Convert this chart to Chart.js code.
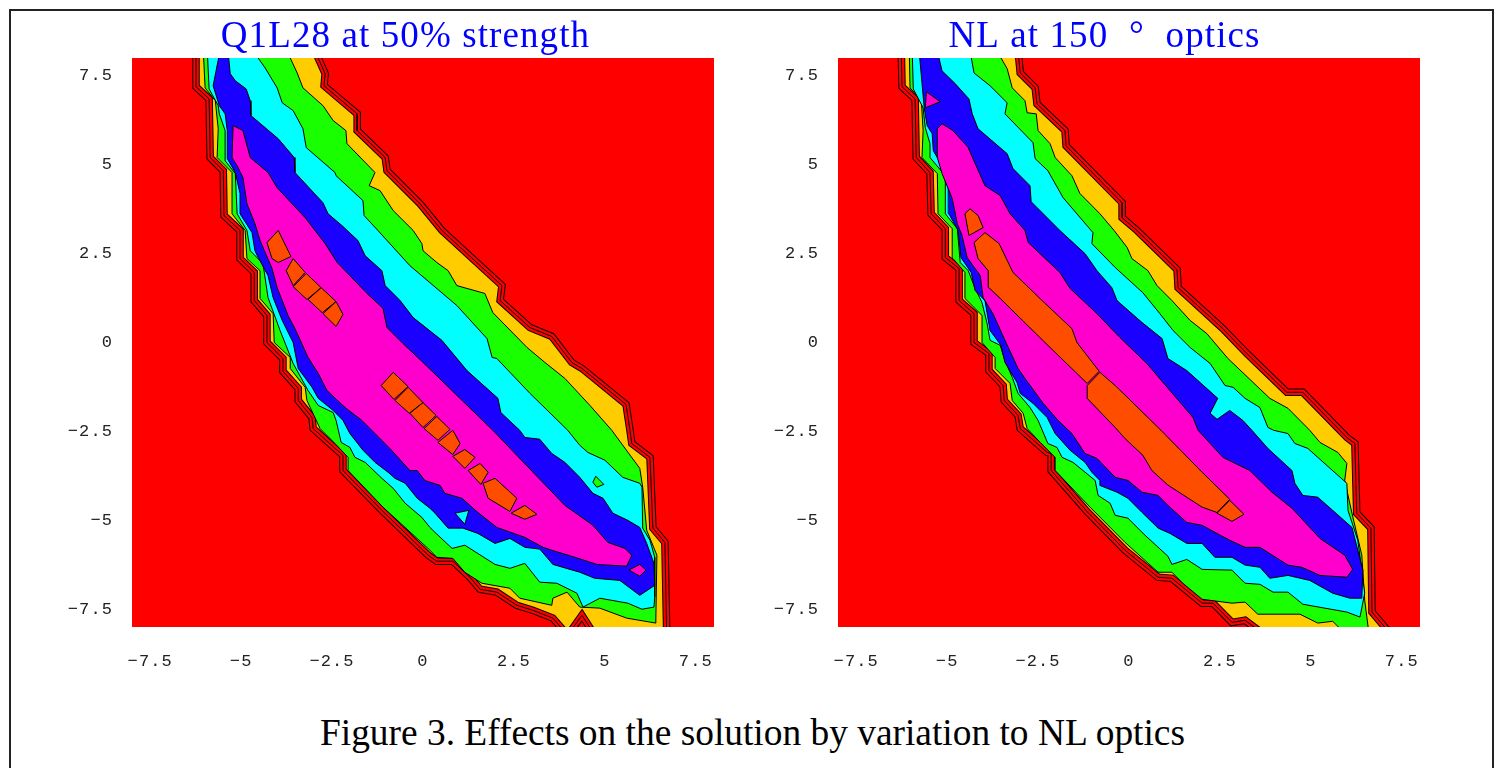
<!DOCTYPE html>
<html>
<head>
<meta charset="utf-8">
<title>Figure 3</title>
<script src="https://cdn.jsdelivr.net/npm/chart.js@4/dist/chart.umd.js"></script>
<style>
  html, body { margin: 0; padding: 0; background: #fff; overflow: hidden; }
  #page { position: relative; width: 1502px; height: 768px; overflow: hidden; }
  #frame { position: absolute; left: 9px; top: 9px; width: 1485px; height: 800px; border: 2px solid #222; box-sizing: border-box; }
  #left-box { position: absolute; left: 40px; top: 0; width: 731px; height: 700px; }
  #right-box { position: absolute; left: 771px; top: 0; width: 667px; height: 700px; }
  #caption { position: absolute; left: 0; width: 1505px; top: 711px; text-align: center; font: 37.4px "Liberation Serif", serif; color: #000; }
</style>
</head>
<body>
<div id="page">
  <div id="frame"></div>
  <div id="left-box"><canvas id="left-chart"></canvas></div>
  <div id="right-box"><canvas id="right-chart"></canvas></div>
  <div id="caption">Figure 3. Effects on the solution by variation to NL optics</div>
</div>
<script>
const xTicks = [-7.5, -5, -2.5, 0, 2.5, 5, 7.5];
const yTicks = [-7.5, -5, -2.5, 0, 2.5, 5, 7.5];
const leftTitle = 'Q1L28 at 50% strength';
const rightTitle = 'NL at 150  °  optics';

// left panel contours, outermost first
const leftOuter = [[-6.24,8.2],[-2.97,8.2],[-2.69,7.56],[-2.72,7.22],[-1.81,6.43],[-1.81,5.96],[-1.04,5.2],[-0.99,4.83],[-0.08,3.9],[0.52,3.15],[2.17,1.6],[2.12,1.18],[2.94,0.42],[3.54,0.17],[4.09,-0.56],[4.37,-0.73],[5.58,-1.74],[5.69,-2.47],[5.74,-2.84],[6.24,-3.23],[6.32,-5.22],[6.65,-5.62],[6.7,-8.23],[4.72,-8.23],[4.37,-7.67],[3.98,-8.23],[3.57,-7.75],[3.02,-7.53],[2.58,-7.39],[2.03,-7.02],[1.57,-6.94],[1.29,-6.6],[0.82,-6.15],[0.38,-6.15],[0.14,-5.98],[-1.13,-4.72],[-2.2,-3.6],[-2.2,-3.17],[-2.36,-3.03],[-3.02,-2.42],[-3.05,-2.11],[-3.43,-1.63],[-3.43,-1.29],[-3.85,-0.81],[-3.85,-0.45],[-4.29,0],[-4.29,0.76],[-4.64,1.18],[-4.64,1.97],[-5.03,2.36],[-5.03,3.15],[-5.47,3.57],[-5.49,4.83],[-5.85,5.2],[-5.88,6.85],[-6.24,7.19]];
const leftGreen = [[-3.74,8.2],[-3.46,7.58],[-3.3,7.16],[-2.75,6.66],[-2.47,6.24],[-2.12,5.96],[-2.09,5.59],[-1.32,4.78],[-1.48,4.41],[-1.18,4.27],[-0.82,3.71],[-0.27,3.15],[-0.03,2.78],[0,2.58],[0.38,2.25],[0.69,2.02],[0.93,1.6],[1.7,1.38],[1.92,0.84],[2.86,-0.14],[3.35,-0.56],[3.9,-1.01],[4.59,-1.77],[5.19,-2.47],[5.96,-3.54],[6.04,-4.07],[6.15,-5.28],[6.43,-5.98],[6.4,-7.89],[5.6,-7.75],[4.86,-7.47],[4.31,-7.44],[3.96,-7.02],[3.57,-7.19],[3.54,-7.39],[2.66,-7.19],[2.39,-6.91],[1.62,-6.77],[1.15,-6.46],[0.82,-6.07],[0.38,-6.04],[0.19,-5.84],[-1.1,-4.63],[-2.06,-3.6],[-2.06,-3.23],[-2.42,-2.84],[-2.83,-2.42],[-3.19,-1.63],[-3.24,-1.26],[-3.65,-0.73],[-3.65,-0.42],[-4.09,0],[-4.12,0.81],[-4.48,1.24],[-4.48,2.02],[-4.84,2.36],[-4.89,3.15],[-5.25,3.62],[-5.25,4.78],[-5.66,5.2],[-5.63,6.01],[-5.71,6.8],[-5.99,7.16],[-6.04,8.2]];
const leftCyan = [[-4.67,8.2],[-4.34,7.72],[-4.01,7.16],[-3.87,6.74],[-3.57,6.52],[-3.3,6.01],[-3.21,5.48],[-2.42,4.78],[-2.39,4.69],[-1.65,3.99],[-1.62,3.57],[-1.24,3.15],[-0.91,2.78],[-0.36,2.16],[0.93,1.04],[1.76,0.11],[1.9,-0.42],[2.03,-0.45],[2.94,-1.43],[3.98,-2.47],[4.31,-2.89],[4.53,-3.09],[5,-3.31],[5.49,-3.79],[5.96,-3.96],[6.02,-4.07],[6.04,-5.22],[6.24,-5.56],[6.37,-6.04],[6.37,-7.16],[6.35,-7.44],[6.02,-7.5],[5.63,-7.33],[4.86,-7.19],[4.4,-7.44],[4.23,-7.05],[3.68,-6.77],[3.21,-6.74],[2.8,-6.21],[2.39,-6.35],[1.98,-6.24],[1.15,-5.7],[0.8,-5.79],[0.33,-5.34],[0.19,-5.2],[-0.03,-4.92],[-0.49,-4.52],[-0.82,-4.1],[-1.13,-3.82],[-1.59,-3.37],[-1.87,-3.23],[-2.01,-2.95],[-2.25,-2.81],[-2.39,-2.19],[-2.47,-1.97],[-2.88,-1.77],[-3.16,-1.35],[-3.57,-0.59],[-3.93,0.34],[-4.26,1.26],[-4.4,2.22],[-4.75,2.58],[-4.84,3.15],[-5.11,3.62],[-5.16,4.75],[-5.44,5.11],[-5.44,5.96],[-5.6,6.43],[-5.63,6.66],[-5.88,7.13],[-5.93,8.2]];
const leftBlue = [[-5.36,8.2],[-5.3,7.56],[-5.16,7.36],[-4.86,7.13],[-4.75,6.8],[-4.73,6.38],[-3.98,5.73],[-3.54,5.2],[-3.52,4.78],[-2.75,3.93],[-2.61,3.62],[-2.23,3.29],[-1.79,2.87],[-1.59,2.44],[-1.13,2.02],[-1.04,1.6],[-0.63,1.18],[-0.27,0.7],[0.52,0.06],[1.21,-0.79],[2.06,-1.57],[2.14,-1.97],[2.66,-2.47],[2.8,-2.67],[3.21,-2.72],[3.54,-3.12],[3.9,-3.37],[4.31,-3.79],[4.67,-4.24],[4.95,-4.38],[5.22,-4.8],[5.63,-5],[5.96,-5.2],[6.15,-5.65],[6.35,-6.21],[6.37,-6.83],[5.96,-7.11],[5.41,-6.69],[4.72,-6.63],[4.31,-6.46],[3.57,-6.24],[3.21,-5.81],[2.8,-5.76],[2.39,-5.51],[1.98,-5.65],[1.51,-5.37],[1.1,-5.22],[0.69,-5.22],[0.33,-4.8],[0.19,-4.66],[-0.16,-4.38],[-0.49,-3.96],[-0.77,-3.82],[-0.96,-3.65],[-1.32,-3.37],[-1.65,-3.03],[-2.01,-2.56],[-2.2,-2.19],[-2.47,-1.91],[-2.88,-1.57],[-3.05,-1.26],[-3.43,-0.73],[-3.57,0],[-3.87,0.62],[-4.12,1.26],[-4.26,1.88],[-4.53,2.39],[-4.62,2.58],[-4.7,3.09],[-5.03,3.62],[-5.03,4.19],[-5.16,4.78],[-5.38,5.17],[-5.38,5.96],[-5.44,6.43],[-5.6,6.66],[-5.77,7.22],[-5.58,8.2]];
const leftMagenta = [[-5.22,6.1],[-4.95,5.96],[-4.75,5.2],[-4.26,4.78],[-4.01,4.35],[-3.24,3.51],[-2.69,2.78],[-2.36,2.25],[-1.54,1.38],[-1.1,0.96],[-0.99,0.42],[-0.55,-0.03],[0,-0.56],[1.92,-2.47],[3.9,-4.58],[4.67,-5.14],[5.08,-5.62],[5.55,-5.79],[5.74,-5.98],[5.6,-6.29],[4.78,-6.24],[4.18,-6.04],[3.63,-5.87],[3.3,-5.76],[2.8,-5.48],[2.03,-5.2],[1.51,-4.78],[1.07,-4.38],[0.6,-4.24],[0.47,-4.02],[0.05,-3.88],[-0.16,-3.6],[-0.36,-3.6],[-0.91,-2.98],[-1.32,-2.56],[-1.68,-2.19],[-2.14,-1.83],[-2.64,-1.35],[-2.88,-0.87],[-3.16,-0.42],[-3.52,0.39],[-3.71,0.76],[-4.01,1.54],[-4.15,2.08],[-4.48,2.87],[-4.62,3.34],[-4.84,3.9],[-4.95,4.64],[-5.11,4.97],[-5.25,5.2]];
const leftOrange = [
  [[-4.29,2.81],[-3.98,3.15],[-3.63,2.42],[-3.98,2.25],[-4.15,2.36]],
  [[-3.57,2.36],[-3.24,1.97],[-3.57,1.6],[-3.76,2.02]],
  [[-3.21,1.94],[-2.8,1.54],[-3.19,1.21],[-3.57,1.57]],
  [[-2.8,1.54],[-2.39,1.15],[-2.77,0.84],[-3.16,1.21]],
  [[-2.39,1.15],[-2.2,0.79],[-2.39,0.45],[-2.75,0.81]],
  [[-0.82,-0.84],[-0.41,-1.24],[-0.8,-1.6],[-1.15,-1.21]],
  [[-0.41,-1.26],[0,-1.69],[-0.38,-1.99],[-0.77,-1.63]],
  [[0,-1.69],[0.36,-2.05],[0,-2.39],[-0.36,-1.99]],
  [[0.38,-2.08],[0.74,-2.44],[0.41,-2.75],[0.03,-2.42]],
  [[0.41,-2.81],[0.82,-2.47],[1.02,-2.84],[0.82,-3.15]],
  [[0.82,-3.2],[1.15,-3.01],[1.43,-3.23],[1.15,-3.54]],
  [[1.24,-3.6],[1.57,-3.4],[1.79,-3.65],[1.59,-3.99]],
  [[1.65,-3.96],[1.98,-3.82],[2.58,-4.38],[2.39,-4.75],[1.79,-4.38]],
  [[2.42,-4.8],[2.8,-4.58],[3.13,-4.83],[2.8,-4.97]]
];
const leftGreenIsle = [[4.75,-3.76],[4.97,-3.99],[4.78,-4.07],[4.67,-3.93]];
const leftMagentaIsle = [[5.66,-6.4],[5.96,-6.24],[6.13,-6.4],[5.96,-6.57]];
const leftCyanIsle = [[0.88,-4.8],[1.26,-4.72],[1.15,-5.11]];

// right panel contours
const rightOuter = [[-3.05,8.2],[-2.99,7.58],[-2.58,7.16],[-2.53,6.71],[-1.76,5.96],[-1.73,5.53],[-0.19,3.93],[-0.19,3.51],[0.22,3.15],[1.32,2.05],[1.35,1.54],[2.58,0.39],[3.24,-0.31],[4.34,-1.4],[4.78,-1.4],[5.99,-2.67],[6.21,-2.84],[6.26,-4.8],[6.65,-5.22],[6.68,-7.58],[7.22,-8.23],[3.74,-8.23],[3.19,-7.81],[2.83,-7.87],[2.31,-7.33],[2.01,-7.33],[1.18,-6.63],[0.8,-6.6],[-0.11,-5.84],[-1.13,-4.78],[-2.14,-3.6],[-2.14,-3.12],[-2.25,-3.09],[-2.99,-2.42],[-3.05,-2.05],[-3.43,-1.63],[-3.46,-1.21],[-3.85,-0.79],[-3.85,-0.31],[-4.26,0],[-4.26,0.81],[-4.67,1.18],[-4.67,2.08],[-5.05,2.39],[-5.05,3.2],[-5.44,3.62],[-5.47,4.78],[-5.85,5.2],[-5.88,6.85],[-6.24,7.19],[-6.26,8.2]];
const rightGreen = [[-3.63,8.2],[-3.35,7.7],[-3.21,7.16],[-2.86,6.8],[-2.8,6.46],[-2.55,6.43],[-2.5,5.96],[-2.17,5.59],[-2.03,5.2],[-1.57,4.69],[-1.35,4.19],[-0.8,3.62],[-0.41,3.15],[-0.05,2.67],[0.08,2.36],[0.52,2.02],[0.77,1.6],[1.18,1.18],[1.68,0.62],[2.14,0.25],[2.72,-0.45],[3.87,-1.57],[4.37,-1.85],[4.97,-2.47],[5.25,-2.81],[5.74,-3.09],[5.99,-3.4],[5.93,-3.88],[6.13,-4.8],[6.4,-5.98],[6.48,-7.25],[6.62,-8.37],[6.13,-8.37],[5.6,-7.84],[5.19,-7.89],[4.7,-7.64],[3.54,-7.64],[3.19,-7.3],[2.83,-7.33],[2.01,-7.22],[1.48,-6.77],[1.18,-6.46],[0.8,-6.46],[-0.11,-5.62],[-1.07,-4.63],[-2.03,-3.6],[-2.03,-3.23],[-2.44,-2.81],[-2.8,-2.42],[-2.91,-1.99],[-3.21,-1.63],[-3.27,-1.15],[-3.68,-0.73],[-3.68,-0.42],[-4.04,0],[-4.04,0.76],[-4.51,1.24],[-4.51,1.97],[-4.84,2.36],[-4.86,3.2],[-5.25,3.62],[-5.27,4.75],[-5.69,5.2],[-5.66,5.96],[-5.71,6.8],[-6.02,7.16],[-6.04,8.2]];
const rightCyan = [[-4.37,8.2],[-4.26,7.58],[-3.82,7.22],[-3.35,6.74],[-3.41,6.43],[-2.64,5.62],[-2.58,5.17],[-2.23,4.83],[-1.81,4.07],[-0.99,3.09],[-1.02,2.78],[-0.38,2.11],[0.38,1.4],[0.85,0.81],[1.21,0.34],[1.68,-0.14],[2.23,-0.59],[2.64,-1.21],[2.86,-1.26],[3.19,-1.57],[3.6,-1.83],[3.82,-2.39],[3.98,-2.47],[4.37,-2.56],[4.56,-2.84],[4.92,-2.98],[5.19,-3.23],[5.99,-3.96],[6.02,-4.72],[6.29,-5.56],[6.48,-7.05],[6.35,-7.72],[5.99,-7.58],[4.78,-7.36],[4.37,-7.02],[3.96,-7.02],[3.6,-6.8],[3.19,-6.77],[2.83,-6.4],[2.01,-6.38],[1.59,-6.1],[1.18,-6.24],[1.07,-6.01],[0.44,-5.42],[-0.03,-4.94],[-0.38,-4.86],[-0.52,-4.52],[-0.85,-4.3],[-0.93,-3.88],[-1.54,-3.37],[-1.84,-3.23],[-1.98,-2.95],[-2.23,-2.84],[-2.5,-2.19],[-2.72,-1.83],[-3.05,-1.43],[-3.21,-0.98],[-3.41,-0.51],[-3.54,-0.08],[-3.82,0.06],[-3.9,0.53],[-4.04,1.12],[-4.23,1.52],[-4.42,2.02],[-4.64,2.25],[-4.72,3.2],[-5.05,3.62],[-5.05,4.69],[-5.47,5.2],[-5.47,5.59],[-5.6,6.04],[-5.66,6.6],[-5.93,7.13],[-5.96,8.2]];
const rightBlue = [[-5.27,8.2],[-5.14,7.64],[-4.78,7.28],[-4.4,6.85],[-4.31,6.43],[-4.15,6.01],[-3.35,5.31],[-3.19,4.89],[-2.72,4.41],[-2.69,3.96],[-1.9,3.15],[-1.21,2.5],[-0.88,2.02],[-0.47,1.54],[-0.33,1.18],[0.36,0.56],[0.91,0.11],[1.07,-0.45],[1.59,-0.79],[2.44,-1.57],[2.23,-1.99],[2.42,-2.16],[2.77,-1.91],[3.13,-2.19],[3.38,-2.47],[3.82,-2.98],[4.48,-3.6],[4.56,-3.96],[4.78,-4.3],[5.19,-4.35],[5.6,-4.72],[6.13,-5.2],[6.43,-6.4],[6.4,-7.19],[6.07,-7.19],[5.6,-7.05],[4.97,-6.69],[4.37,-6.55],[3.87,-6.63],[3.6,-6.32],[3.19,-6.26],[2.83,-6.04],[2.36,-6.04],[2.01,-5.65],[1.59,-5.65],[1.13,-5.37],[0.8,-5.22],[0.36,-4.78],[-0.03,-4.38],[-0.33,-4.21],[-0.8,-4.02],[-0.8,-3.88],[-1.02,-3.65],[-1.21,-3.37],[-1.62,-3.03],[-2.03,-2.56],[-2.25,-2.11],[-2.64,-1.71],[-2.99,-1.43],[-3.08,-1.12],[-3.41,-0.56],[-3.52,-0.08],[-3.82,0.34],[-3.96,1.18],[-4.23,1.46],[-4.34,1.97],[-4.62,2.39],[-4.7,3.15],[-4.95,3.62],[-4.97,4.69],[-5.38,5.39],[-5.41,5.87],[-5.55,6.1],[-5.63,6.6],[-5.69,7.28],[-5.77,8.2]];
const rightMagenta = [[-5.14,6.15],[-4.84,5.96],[-4.42,5.48],[-4.29,5.17],[-3.96,4.41],[-3.54,4.13],[-3.27,3.62],[-2.86,3.15],[-2.77,2.81],[-1.9,1.97],[-1.62,1.52],[-0.88,0.81],[-0.25,0.14],[0.49,-0.59],[1.76,-2.11],[1.9,-2.47],[2.58,-3.23],[3.32,-3.6],[3.93,-4.21],[4.48,-4.66],[5.25,-5.51],[5.93,-5.98],[6.15,-6.38],[5.99,-6.6],[5.25,-6.55],[4.75,-6.32],[4.37,-6.26],[3.6,-5.76],[3.19,-5.76],[2.77,-5.56],[2.42,-5.37],[2.01,-5.14],[1.59,-5.06],[1.07,-4.58],[0.8,-4.3],[0.36,-4.21],[-0.03,-3.88],[-0.38,-3.79],[-0.88,-3.26],[-1.21,-3.12],[-1.57,-2.56],[-1.95,-2.19],[-2.36,-1.71],[-2.86,-1.01],[-3.05,-0.73],[-3.41,0.06],[-3.74,0.81],[-4.01,1.26],[-4.09,1.88],[-4.45,2.39],[-4.59,3.01],[-4.72,3.34],[-4.86,4.05],[-5.14,4.75],[-5.27,5.2],[-5.27,6.01]];
const rightOrange = [
  [[-4.51,3.62],[-4.37,3.76],[-4.15,3.57],[-4.01,3.23],[-4.4,3.01]],
  [[-4.26,2.81],[-3.96,3.09],[-3.57,2.78],[-3.19,1.97],[-2.39,1.18],[-1.57,0.39],[-1.43,0],[-0.82,-0.81],[-1.15,-1.15],[-2.31,0],[-3.54,1.24],[-3.85,1.54],[-3.87,2.02],[-4.15,2.36]],
  [[-0.8,-0.84],[-0.38,-1.21],[0.88,-2.47],[2.01,-3.65],[2.77,-4.41],[2.42,-4.78],[2.01,-4.63],[1.07,-4.01],[0.63,-3.6],[0.38,-3.17],[-0.11,-2.7],[-0.38,-2.39],[-1.15,-1.57],[-1.15,-1.21]],
  [[2.77,-4.44],[3.16,-4.83],[2.83,-5.03],[2.42,-4.8]]
];
const rightMagentaIsle = [[-5.57,7.05],[-5.19,6.77],[-5.6,6.6]];

const RED = '#ff0000', YELLOW = '#ffcc00', GREEN = '#1aff00', CYAN = '#00ffff', BLUE = '#1a00ff', MAGENTA = '#ff00cc', ORANGE = '#ff4d00';

function poly(points, color, rings) {
  return {
    data: points.concat([points[0]]),
    backgroundColor: color,
    rings: !!rings,
    showLine: true,
    pointRadius: 0,
    borderColor: '#000',
    borderWidth: 1,
    clip: 0
  };
}

// fills each contour and, for the outermost one, adds the bunched red level lines
const contourFill = {
  id: 'contourFill',
  beforeDraw(chart) {
    chart.ctx.letterSpacing = '1.1px';
  },
  beforeDatasetsDraw(chart) {
    const a = chart.chartArea;
    chart.ctx.fillStyle = RED;
    chart.ctx.fillRect(a.left, a.top, a.width, a.height);
  },
  beforeDatasetDraw(chart, args) {
    const ctx = chart.ctx;
    const a = chart.chartArea;
    const ds = chart.data.datasets[args.index];
    const pts = args.meta.data;
    ctx.save();
    ctx.beginPath();
    ctx.rect(a.left, a.top, a.width, a.height);
    ctx.clip();
    ctx.beginPath();
    pts.forEach((p, i) => i ? ctx.lineTo(p.x, p.y) : ctx.moveTo(p.x, p.y));
    ctx.closePath();
    ctx.fillStyle = ds.backgroundColor;
    ctx.fill();
    if (ds.rings) {
      ctx.lineWidth = 7.5;
      ctx.strokeStyle = '#000';
      ctx.stroke();
      ctx.lineWidth = 5.5;
      ctx.strokeStyle = RED;
      ctx.stroke();
    }
    ctx.restore();
  }
};

function tickLabel(v) {
  return v < 0 ? '\u2212' + Math.abs(v) : String(v);
}

function makeChart(id, title, layers, rightGap, yWidth) {
  new Chart(document.getElementById(id), {
    type: 'scatter',
    data: { datasets: layers.slice().reverse() },
    plugins: [contourFill],
    options: {
      responsive: true,
      maintainAspectRatio: false,
      animation: false,
      layout: { autoPadding: false },
      plugins: {
        legend: { display: false },
        tooltip: { enabled: false },
        title: {
          display: true,
          text: title,
          color: '#0000ff',
          font: { family: '"Liberation Serif"', size: 37, weight: 'normal', lineHeight: 1.1 },
          padding: { top: 17.3, bottom: 0 }
        }
      },
      scales: {
        x: {
          min: -8, max: 8,
          grid: { display: false },
          border: { display: false },
          afterBuildTicks: s => { s.ticks = xTicks.map(v => ({ value: v })); },
          afterFit: s => { s.height = 73; s.paddingLeft = 0; s.paddingRight = 0; },
          ticks: { callback: tickLabel, autoSkip: false, maxRotation: 0, padding: 16, color: '#222', font: { family: '"Liberation Mono"', size: 17 } }
        },
        y: {
          min: -8, max: 8,
          grid: { display: false },
          border: { display: false },
          afterBuildTicks: s => { s.ticks = yTicks.map(v => ({ value: v })); },
          afterFit: s => { s.width = yWidth; s.paddingTop = 0; s.paddingBottom = 0; },
          ticks: { callback: tickLabel, autoSkip: false, padding: 11, color: '#222', font: { family: '"Liberation Mono"', size: 17 } }
        },
        // empty right axis, only keeps the space beside the plot
        yGap: {
          axis: 'y',
          position: 'right',
          min: -8, max: 8,
          grid: { display: false },
          border: { display: false },
          ticks: { display: false },
          afterFit: s => { s.width = rightGap; s.paddingTop = 0; s.paddingBottom = 0; }
        }
      }
    }
  });
}

makeChart('left-chart', leftTitle, [
  poly(leftOuter, YELLOW, true),
  poly(leftGreen, GREEN),
  poly(leftCyan, CYAN),
  poly(leftBlue, BLUE),
  poly(leftCyanIsle, CYAN),
  poly(leftMagenta, MAGENTA),
  poly(leftMagentaIsle, MAGENTA),
  poly(leftGreenIsle, GREEN)
].concat(leftOrange.map(p => poly(p, ORANGE))), 57, 92);

makeChart('right-chart', rightTitle, [
  poly(rightOuter, YELLOW, true),
  poly(rightGreen, GREEN),
  poly(rightCyan, CYAN),
  poly(rightBlue, BLUE),
  poly(rightMagentaIsle, MAGENTA),
  poly(rightMagenta, MAGENTA)
].concat(rightOrange.map(p => poly(p, ORANGE))), 18, 67);
</script>
</body>
</html>
